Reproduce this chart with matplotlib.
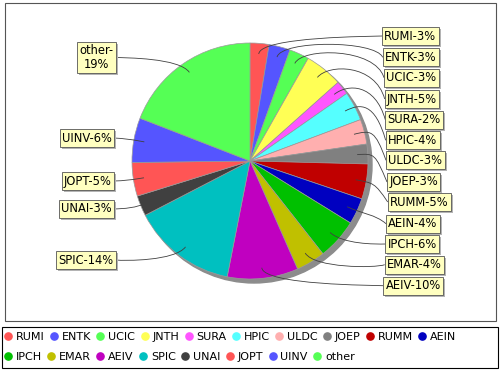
import matplotlib
matplotlib.use("Agg")
import matplotlib.pyplot as plt
from matplotlib.path import Path
from matplotlib.patches import PathPatch, Rectangle, Circle
from matplotlib.lines import Line2D
import numpy as np

plt.rcParams['font.family'] = ['DejaVu Sans']

# ---------------- data ----------------
names = ['RUMI', 'ENTK', 'UCIC', 'JNTH', 'SURA', 'HPIC', 'ULDC', 'JOEP', 'RUMM',
         'AEIN', 'IPCH', 'EMAR', 'AEIV', 'SPIC', 'UNAI', 'JOPT', 'UINV', 'other']
values = [2.6, 2.9, 2.7, 5.2, 1.9, 4.0, 3.4, 2.7, 4.8,
          3.6, 5.6, 4.0, 9.7, 14.3, 2.8, 4.6, 6.1, 19.1]
labels = ['RUMI-3%', 'ENTK-3%', 'UCIC-3%', 'JNTH-5%', 'SURA-2%', 'HPIC-4%', 'ULDC-3%',
          'JOEP-3%', 'RUMM-5%', 'AEIN-4%', 'IPCH-6%', 'EMAR-4%', 'AEIV-10%',
          'SPIC-14%', 'UNAI-3%', 'JOPT-5%', 'UINV-6%', 'other-\n19%']
colors = ['#FF5555', '#5555FF', '#55FF55', '#FFFF55', '#FF55FF', '#55FFFF', '#FFAFAF',
          '#808080', '#C00000', '#0000C0', '#00C000', '#C0C000', '#C000C0', '#00C0C0',
          '#404040', '#FF5555', '#5555FF', '#55FF55']

# ---------------- layout (pixels, y downward) ----------------
W, H = 500, 370
cx, cy, R = 250, 161, 118
link_frac = 0.91
elbow_r = 125
right_box_x = [382, 382.7, 384, 384.7, 385.3, 385.7, 386, 387, 387.7, 386, 385.3, 384.7, 383.3]
right_box_y = [36, 57.3, 77.7, 99, 119.7, 140.3, 160.3, 182, 202, 223.7, 244, 264.7, 285.7]
left_box_x = [116, 114, 114, 114, 116]   # right edges: SPIC, UNAI, JOPT, UINV, other
left_box_y = [260, 209, 181, 138, 57.5]

fig = plt.figure(figsize=(W / 100, H / 100), dpi=100)
ax = fig.add_axes([0, 0, 1, 1])
ax.set_xlim(0, W)
ax.set_ylim(0, H)


def Y(y):
    return H - y


# plot border and legend border
ax.add_patch(Rectangle((5, Y(321)), 491, 318, fill=False, edgecolor='#555555', lw=0.8, zorder=0))
ax.add_patch(Rectangle((2, Y(368)), 496, 41, fill=False, edgecolor='black', lw=0.8, zorder=0))

# pie shadow
ax.add_patch(Circle((cx + 4, Y(cy + 4)), R, color='#8C8C8C', zorder=1))

wedges, _ = ax.pie(values, colors=colors, startangle=90, counterclock=False,
                   center=(cx, Y(cy)), radius=R, frame=True,
                   wedgeprops=dict(edgecolor='#9A9A9A', linewidth=0.5))
for w in wedges:
    w.set_zorder(2)

total = float(sum(values))
cum = np.cumsum([0] + values[:-1])
mid = [(c + v / 2.0) / total * 2 * np.pi for c, v in zip(cum, values)]

fs = 8.3
pad = 0.2
pad_px = pad * fs * 100 / 72.0
texts = []


def draw_label(text, x, y, ha):
    t = ax.text(x, Y(y), text, color='black', fontsize=fs, ha=ha, va='center',
                multialignment='center', linespacing=1.05,
                bbox=dict(boxstyle='square,pad=%g' % pad, fc='#FFFFC0', ec='#555555', lw=0.6),
                zorder=5)
    texts.append(t)


def draw_link(theta, tx, ty, ax_x):
    lx = cx + np.sin(theta) * R * link_frac
    ly = cy - np.cos(theta) * R * link_frac
    ex = cx + np.sin(theta) * elbow_r
    ey = cy - np.cos(theta) * elbow_r
    verts = [(tx, Y(ty)), (ax_x, Y(ey)), (ex, Y(ey)), (lx, Y(ly))]
    codes = [Path.MOVETO, Path.CURVE4, Path.CURVE4, Path.CURVE4]
    ax.add_patch(PathPatch(Path(verts, codes), fill=False, edgecolor='#404040', lw=0.6, zorder=3))


for i in range(13):
    bx, by = right_box_x[i], right_box_y[i]
    draw_link(mid[i], bx, by, cx + elbow_r)
    draw_label(labels[i], bx + pad_px, by, 'left')

for j, i in enumerate(range(13, 18)):
    bx, by = left_box_x[j], left_box_y[j]
    draw_link(mid[i], bx, by, cx - elbow_r)
    draw_label(labels[i], bx - pad_px, by, 'right')

# label box shadows
fig.canvas.draw()
inv = ax.transData.inverted()
for t in texts:
    bb = t.get_bbox_patch().get_window_extent()
    (x0, y0), (x1, y1) = inv.transform([(bb.x0, bb.y0), (bb.x1, bb.y1)])
    ax.add_patch(Rectangle((x0 + 2, y0 - 2), x1 - x0, y1 - y0, fc='#B4B4B4', ec='none', zorder=4))

# legend (two flowing rows)
handles = [Line2D([], [], marker='o', linestyle='none', markersize=5.2,
                  markerfacecolor=c, markeredgecolor=c) for c in colors]
rows = [(0, 10, 337.3), (10, 18, 356.7)]
for a, b, yy in rows:
    fig.legend(handles[a:b], names[a:b], loc='center left',
               bbox_to_anchor=(4 / W, Y(yy) / H), ncol=b - a, frameon=False,
               fontsize=8, handlelength=0.7, handletextpad=0.35,
               columnspacing=0.5, borderpad=0, borderaxespad=0)

ax.set_xlim(0, W)
ax.set_ylim(0, H)
ax.set_aspect('auto')
ax.axis('off')

fig.savefig('out.png', dpi=100, facecolor='white')
